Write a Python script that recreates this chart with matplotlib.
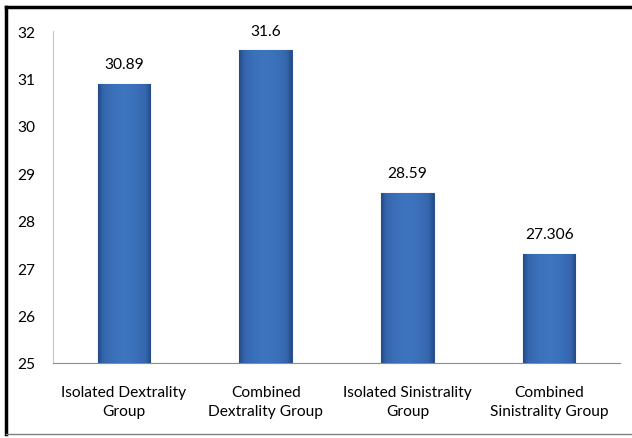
import numpy as np
import matplotlib
matplotlib.use("Agg")
from matplotlib import pyplot as plt
from matplotlib.lines import Line2D
from matplotlib.colors import LinearSegmentedColormap

groups = ["Isolated Dextrality\nGroup", "Combined\nDextrality Group",
          "Isolated Sinistrality\nGroup", "Combined\nSinistrality Group"]
values = [30.89, 31.6, 28.59, 27.306]
value_labels = ["30.89", "31.6", "28.59", "27.306"]
yticks = [25, 26, 27, 28, 29, 30, 31, 32]

plt.rcParams['font.family'] = ['Lato', 'DejaVu Sans']

fig = plt.figure(figsize=(6.32, 4.39), dpi=100)
ax = fig.add_axes([0.084, 0.171, 0.897, 0.756])

x = np.arange(len(groups))
bars = ax.bar(x, values, width=0.37, color='#3a6fb8',
              edgecolor='#2b5592', linewidth=0.8, zorder=2)

# shaded bar face: dark rims, flat mid blue
shade = LinearSegmentedColormap.from_list(
    'barshade', [(0.0, '#234a85'), (0.1, '#3566ad'), (0.3, '#3b71ba'),
                 (0.5, '#3e75bf'), (0.7, '#3b71ba'), (0.9, '#3566ad'),
                 (1.0, '#234a85')])
grad = np.linspace(0, 1, 256).reshape(1, -1)
for b in bars:
    im = ax.imshow(grad, cmap=shade, aspect='auto', zorder=3,
                   extent=[b.get_x(), b.get_x() + b.get_width(), 25, b.get_height()])
    im.set_clip_path(b)

ax.set_xlim(-0.5, len(groups) - 0.5)
ax.set_ylim(25, 32)
ax.set_yticks(yticks)
ax.set_xticks(x)
ax.set_xticklabels(groups, fontsize=11.2, linespacing=1.45)
ax.tick_params(axis='y', length=0, pad=13, labelsize=11.2)
ax.tick_params(axis='x', length=0, pad=16)

for s in ['top', 'right']:
    ax.spines[s].set_visible(False)
ax.spines['left'].set_color('#c8c8c8')
ax.spines['bottom'].set_color('#8c8c8c')

for b, lab in zip(bars, value_labels):
    ax.text(b.get_x() + b.get_width() / 2, b.get_height() + 0.26, lab,
            ha='center', va='bottom', fontsize=11.2)

# frame around the chart
fig.add_artist(Line2D([0.0095, 1.0], [0.981, 0.981], color='black', lw=2.5,
                      transform=fig.transFigure))
fig.add_artist(Line2D([0.0095, 0.0095], [0.008, 0.981], color='black', lw=2.5,
                      transform=fig.transFigure))
fig.add_artist(Line2D([0.0095, 1.0], [0.009, 0.009], color='#808080', lw=1.0,
                      transform=fig.transFigure))

fig.savefig('out.png', dpi=100)
